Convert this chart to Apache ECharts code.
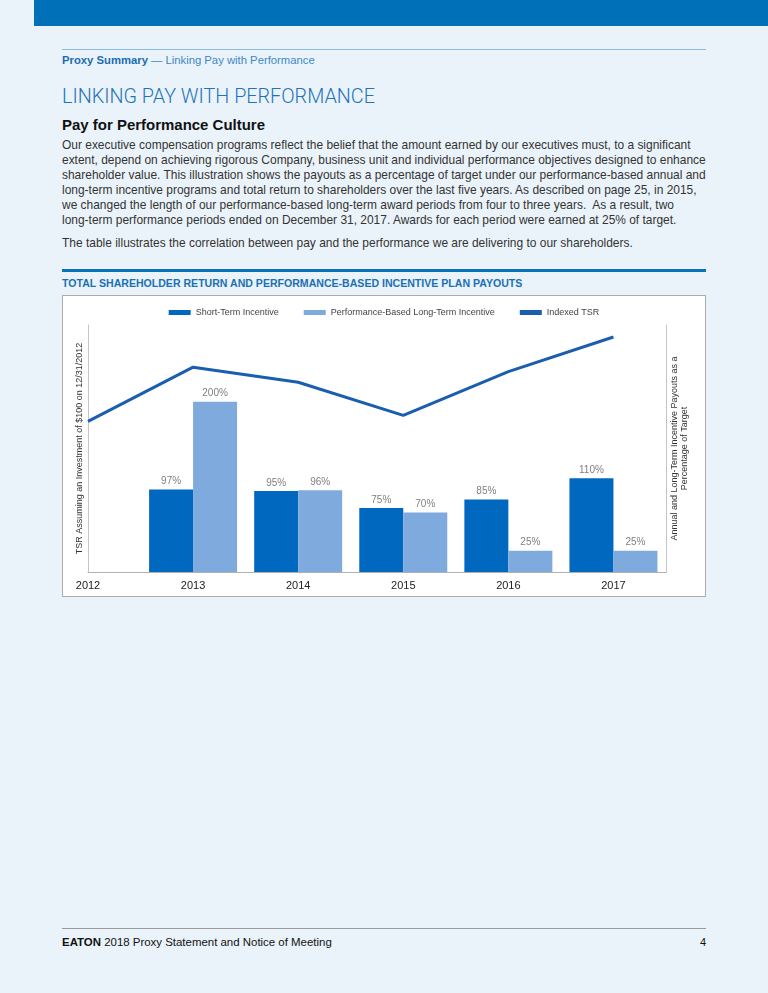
<!DOCTYPE html>
<html>
<head>
<meta charset="utf-8">
<script src="https://cdn.jsdelivr.net/npm/echarts@6/dist/echarts.min.js"></script>
<style>
  html, body { margin:0; padding:0; }
  body { width:768px; height:993px; overflow:hidden; position:relative; background:#EBF3FA;
         font-family:'Liberation Sans', Arial, sans-serif; }
  .abs { position:absolute; white-space:nowrap; }
  #para div, #para2 { white-space:nowrap; }
</style>
</head>
<body>
<script>
// ---- chart data ----
const years = [2012, 2013, 2014, 2015, 2016, 2017];
const tsrValues = [100, 136, 126, 104, 133, 156];
const barYears = [2013, 2014, 2015, 2016, 2017];
const shortTerm = [97, 95, 75, 85, 110];
const longTerm = [200, 96, 70, 25, 25];
const seriesNames = ['Short-Term Incentive', 'Performance-Based Long-Term Incentive', 'Indexed TSR'];
const leftAxisName = 'TSR Assuming an Investment of $100 on 12/31/2012';
const rightAxisName = 'Annual and Long-Term Incentive Payouts as a\nPercentage of Target';
</script>

<div class="abs" style="left:34px;top:0;width:734px;height:26px;background:#0070B8"></div>
<div class="abs" style="left:62px;top:48.5px;width:644px;height:1.5px;background:#8DBDE1"></div>
<div id="crumb" class="abs" style="left:62px;top:53px;font-size:11px;line-height:14px;color:#3C88C7"><b style="color:#1A6CB2">Proxy Summary</b> — Linking Pay with Performance</div>
<div id="h1" class="abs" style="left:62px;top:85px;font-family:Roboto,'Liberation Sans',sans-serif;font-weight:300;font-size:19px;line-height:24px;color:#1E73BA">LINKING PAY WITH PERFORMANCE</div>
<div id="h2" class="abs" style="left:62px;top:115.5px;font-weight:bold;font-size:15px;line-height:18px;color:#111">Pay for Performance Culture</div>
<div id="para" class="abs" style="left:62px;top:137.5px;font-size:12.3px;line-height:15px;color:#333">
  <div>Our executive compensation programs reflect the belief that the amount earned by our executives must, to a significant</div>
  <div>extent, depend on achieving rigorous Company, business unit and individual performance objectives designed to enhance</div>
  <div>shareholder value. This illustration shows the payouts as a percentage of target under our performance-based annual and</div>
  <div>long-term incentive programs and total return to shareholders over the last five years. As described on page 25, in 2015,</div>
  <div>we changed the length of our performance-based long-term award periods from four to three years.&nbsp; As a result, two</div>
  <div>long-term performance periods ended on December 31, 2017. Awards for each period were earned at 25% of target.</div>
</div>
<div id="para2" class="abs" style="left:62px;top:235.5px;font-size:12.3px;line-height:15px;color:#333">The table illustrates the correlation between pay and the performance we are delivering to our shareholders.</div>
<div class="abs" style="left:62px;top:269px;width:644px;height:3px;background:#0A71BC"></div>
<div id="ctitle" class="abs" style="left:62px;top:276.5px;font-weight:bold;font-size:10px;line-height:12px;color:#1A70B5">TOTAL SHAREHOLDER RETURN AND PERFORMANCE-BASED INCENTIVE PLAN PAYOUTS</div>
<div class="abs" style="left:62px;top:295px;width:644px;height:302px;box-sizing:border-box;border:1px solid #ababab;background:#fff"></div>

<div class="abs" style="left:62px;top:928px;width:644px;height:1px;background:#9a9a9a"></div>
<div id="foot" class="abs" style="left:62px;top:935px;font-size:11px;line-height:14px;color:#111"><b>EATON</b> 2018 Proxy Statement and Notice of Meeting</div>
<div class="abs" style="left:606px;width:100px;top:935px;font-size:11px;line-height:14px;color:#111;text-align:right">4</div>

<div id="chart" style="position:absolute;left:0;top:0;width:768px;height:993px;z-index:5"></div>

<script>
function fit(id, w) {
  const el = document.getElementById(id);
  const cur = el.getBoundingClientRect().width;
  const fs = parseFloat(getComputedStyle(el).fontSize);
  el.style.fontSize = (fs * w / cur) + 'px';
  return fs * w / cur;
}
fit('crumb', 253);
fit('h1', 313);
fit('h2', 203);
const pfs = fit('para', 644);
document.getElementById('para2').style.fontSize = pfs + 'px';
fit('ctitle', 461);
fit('foot', 270);

const chart = echarts.init(document.getElementById('chart'));
const pctLabel = {
  show: true, position: 'top', distance: 3,
  formatter: p => p.value[1] + '%',
  fontSize: 10, color: '#808080', fontFamily: 'Liberation Sans'
};
chart.setOption({
  animation: false,
  legend: {
    top: 303, left: 'center', icon: 'rect', itemWidth: 22, itemHeight: 5, itemGap: 25,
    textStyle: { fontSize: 9, color: '#444', fontFamily: 'Liberation Sans' },
    data: seriesNames
  },
  grid: { left: 88, top: 325, right: 102, bottom: 421 },
  xAxis: {
    type: 'value', min: 2012, max: 2017.5, interval: 1,
    axisLine: { show: true, lineStyle: { color: '#b0b0b0', width: 1 } },
    axisTick: { show: false }, splitLine: { show: false },
    axisLabel: {
      color: '#222', fontSize: 11, margin: 8, fontFamily: 'Liberation Sans',
      formatter: v => Number.isInteger(v) ? String(v) : ''
    }
  },
  yAxis: [
    {
      type: 'value', min: 0, max: 164, position: 'left',
      name: leftAxisName, nameLocation: 'middle', nameGap: 4,
      nameTextStyle: { fontSize: 9, color: '#333', fontFamily: 'Liberation Sans' },
      axisLine: { show: true, lineStyle: { color: '#c4c4c4' } },
      axisLabel: { show: false }, axisTick: { show: false }, splitLine: { show: false }
    },
    {
      type: 'value', min: 0, max: 290, position: 'right',
      name: rightAxisName, nameLocation: 'middle', nameGap: 4,
      nameTextStyle: { fontSize: 9, color: '#333', lineHeight: 10, fontFamily: 'Liberation Sans' },
      axisLine: { show: true, lineStyle: { color: '#c4c4c4' } },
      axisLabel: { show: false }, axisTick: { show: false }, splitLine: { show: false }
    }
  ],
  series: [
    {
      name: seriesNames[0], type: 'bar', yAxisIndex: 1, barWidth: 44, barGap: '0%',
      data: barYears.map((y, i) => [y, shortTerm[i]]),
      itemStyle: { color: '#0069BF' }, label: pctLabel
    },
    {
      name: seriesNames[1], type: 'bar', yAxisIndex: 1, barWidth: 44, barGap: '0%',
      data: barYears.map((y, i) => [y, longTerm[i]]),
      itemStyle: { color: '#7FAADD' }, label: pctLabel
    },
    {
      name: seriesNames[2], type: 'line', yAxisIndex: 0, z: 5,
      data: years.map((y, i) => [y, tsrValues[i]]),
      symbol: 'none', lineStyle: { width: 3, color: '#1A5EB0' }, itemStyle: { color: '#1A5EB0' }
    }
  ]
});
</script>
</body>
</html>
